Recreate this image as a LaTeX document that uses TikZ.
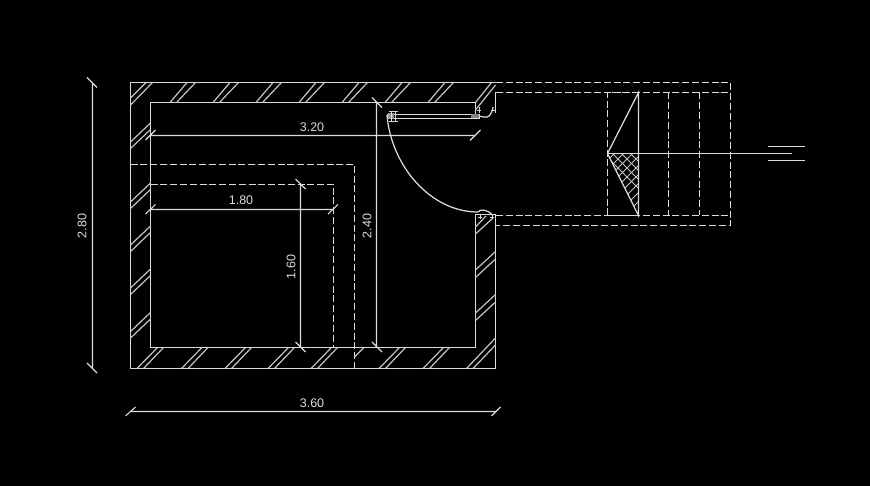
\documentclass[tikz,border=0pt]{standalone}
\usepackage{fontspec}
\setmainfont{Liberation Sans}
\definecolor{cadline}{gray}{0.86}
\tikzset{
  wall/.style={draw=cadline,line width=1.25pt},
  hatchline/.style={draw=cadline!90!black,line width=1.2pt},
  hidden/.style={draw=cadline,line width=1.25pt,dash pattern=on 7pt off 2.8pt},
  dimline/.style={draw=cadline,line width=1.1pt},
  dimtext/.style={text=cadline,font=\fontsize{12.5}{12.5}\selectfont,inner sep=0pt},
  mesh/.style={draw=cadline!90!black,line width=0.9pt}
}
\begin{document}
\begin{tikzpicture}[x=1pt,y=-1pt]
\fill[black] (0,0) rectangle (870,486);
\useasboundingbox (0,0) rectangle (870,486);
% walls
\draw[wall] (475.5,116) -- (475.5,102.5) -- (150.5,102.5) -- (150.5,347.5) -- (475.5,347.5) -- (475.5,214.5) -- (495.5,214.5);
\draw[wall] (495.5,113) -- (495.5,92.5);
\draw[wall] (495.5,82.5) -- (130.5,82.5) -- (130.5,368.5) -- (495.5,368.5) -- (495.5,214.5);
% top hatch
\foreach \a in {170,213,256,299,342,385,428}{
  \draw[hatchline] (\a,102.5) -- (\a+17,82.5);
  \draw[hatchline] (\a+6.5,102.5) -- (\a+25.5,82.5);
}
\draw[hatchline] (475.5,102.5) -- (491.5,82.5);
\draw[hatchline] (475.5,110) -- (495.5,85);
% left hatch
\draw[hatchline] (130.5,98) -- (146,82.5);
\draw[hatchline] (130.5,105) -- (152.5,82.5);
\foreach \a in {142,202,245,288,331.5}{
  \draw[hatchline] (130.5,\a) -- (150.5,\a-19);
  \draw[hatchline] (130.5,\a+6.5) -- (150.5,\a-12.5);
}
% bottom hatch
\foreach \a in {137,181.5,225,268,311,379,423}{
  \draw[hatchline] (\a,368.5) -- (\a+20.5,347.5);
  \draw[hatchline] (\a+6.5,368.5) -- (\a+26.5,347.5);
}
\draw[hatchline] (354.5,357) -- (364,347.5);
\draw[hatchline] (466.5,368.5) -- (495.5,338);
\draw[hatchline] (473,368.5) -- (495.5,345);
% right hatch
\foreach \a in {270,313}{
  \draw[hatchline] (475.5,\a) -- (495.5,\a-18.5);
  \draw[hatchline] (475.5,\a+7.5) -- (495.5,\a-11);
}
\draw[hatchline] (475.5,227) -- (486,216);
\draw[hatchline] (475.5,234) -- (493,218);
% inner dashed outlines
\draw[hidden] (130.5,164.5) -- (354.5,164.5) -- (354.5,368.5);
\draw[hidden] (150.5,184.5) -- (333.5,184.5) -- (333.5,347.5);
% door
\draw[wall] (387,115) .. controls (391,165) and (430,212) .. (478,212);
\draw[wall] (387.5,114.5) rectangle (479.5,118.5);
\fill[cadline!70!black] (388,113) rectangle (394,119);
\draw[wall] (389,111.5) -- (398,111.5) (389,121.5) -- (398,121.5) (391.5,111.5) -- (391.5,121.5) (395.5,111.5) -- (395.5,121.5);
\fill[cadline!60!black] (471,114) rectangle (479,118);
\draw[wall] (479,116) .. controls (483,117) and (487,118) .. (489,116) .. controls (491,114) and (493,110) .. (493,107);
\draw[wall] (479.5,107) -- (479.5,113) (477,110.5) -- (481,110.5) (491,110.5) -- (495,110.5);
\draw[wall] (478,212) .. controls (479,209) and (488,209) .. (492,215);
\draw[wall] (480.5,214) -- (480.5,219) (478,217.5) -- (482,217.5) (492.5,214) -- (492.5,219) (490,217.5) -- (494,217.5);
% entrance landing
\draw[hidden] (496,82.5) -- (730.5,82.5) -- (730.5,225.5) -- (496,225.5);
\draw[hidden] (496,92.5) -- (730.5,92.5);
\draw[hidden] (496,215.5) -- (730.5,215.5);
\draw[hidden] (638.5,92.5) -- (607.5,92.5) -- (607.5,215.5) -- (638.5,215.5);
\draw[hidden] (668.5,92.5) -- (668.5,215.5);
\draw[hidden] (699.5,92.5) -- (699.5,215.5);
% crosshatch
\begin{scope}
\clip (607.5,153.5) -- (638.5,153.5) -- (638.5,215.5) -- cycle;
\foreach \a in {0,...,10}{
  \draw[mesh] (600+\a*9,150) -- (600+\a*9+70,220);
  \draw[mesh] (600+\a*9,150) -- (600+\a*9-70,220);
}
\end{scope}
\draw[wall] (607.5,153.5) -- (638.5,92.5) -- (638.5,215.5) -- cycle;
\draw[wall] (607.5,153.5) -- (792,153.5);
\draw[wall] (768,146.5) -- (805,146.5);
\draw[wall] (768,160.5) -- (805,160.5);
% dimensions
\draw[dimline] (150.5,135.5) -- (475.5,135.5) (145.5,140) -- (155.5,130) (470,140.5) -- (480.5,130);
\node[dimtext] (d320) at (312,127) {3.20};
\draw[dimline] (150.5,209.5) -- (333.5,209.5) (145.5,214) -- (155.5,204.5) (328,214) -- (338,204.5);
\node[dimtext] (d180) at (241,200) {1.80};
\draw[dimline] (300.5,184.5) -- (300.5,347.5) (295.5,179) -- (305.5,189) (295.5,342) -- (305.5,352);
\node[dimtext,rotate=90] (d160) at (291,267) {1.60};
\draw[dimline] (376.5,102.5) -- (376.5,347.5) (372,97.5) -- (382,107.5) (372,342) -- (382,352);
\node[dimtext,rotate=90] (d240) at (367,226) {2.40};
\draw[dimline] (92.5,82.5) -- (92.5,368.5) (87,77.5) -- (97,87.5) (87,363) -- (97,373);
\node[dimtext,rotate=90] (d280) at (82,226) {2.80};
\draw[dimline] (130.5,411.5) -- (495.5,411.5) (125.5,416) -- (135.5,407) (491.5,416) -- (500.5,407);
\node[dimtext] (d360) at (312,403) {3.60};
\end{tikzpicture}
\end{document}
